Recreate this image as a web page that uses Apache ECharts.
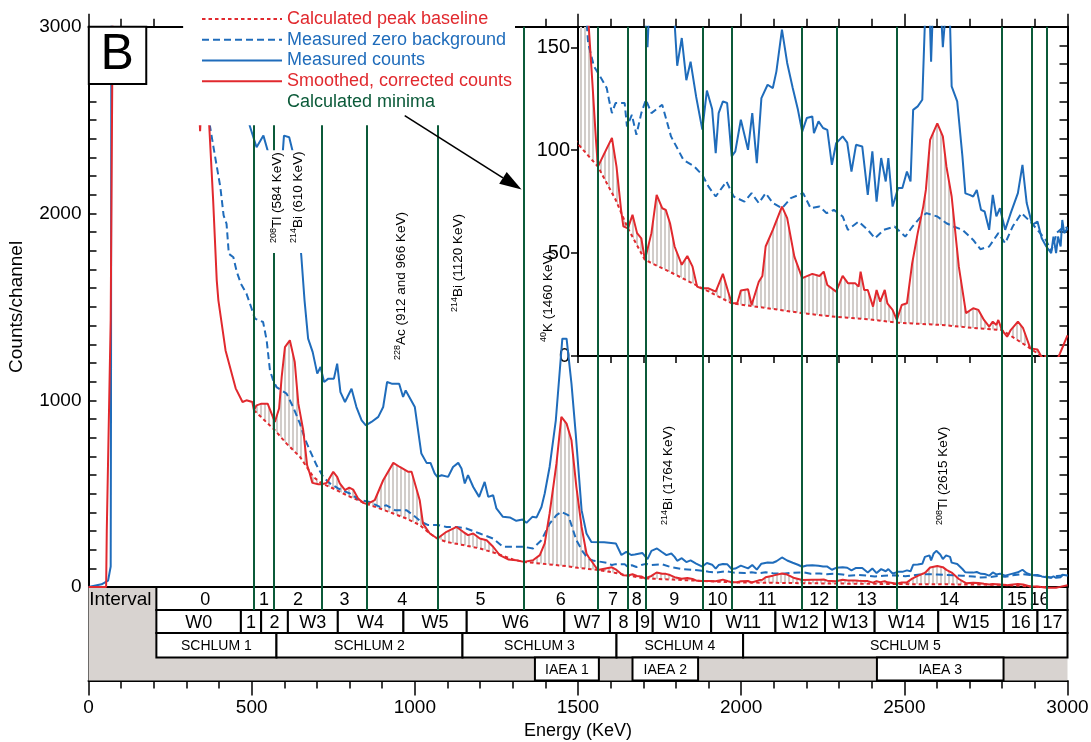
<!DOCTYPE html>
<html><head><meta charset="utf-8">
<script src="https://cdn.jsdelivr.net/npm/echarts@6.0.0/dist/echarts.min.js"></script>
<style>html,body{margin:0;padding:0;background:#fff}#c{width:1091px;height:742px}</style>
</head><body><div id="c"></div>
<script>
// ---------------- DATA ----------------
const smoothedCounts = [[0,0],[54,0],[56,300],[68,1430],[75,3300],[330,3300],[338,2600],[342,2440],[346,2600],[356,2700],[370,2470],[382,2070],[393,1642],[398,1535],[420,1267],[451,1064],[472,991],[484,1000],[502,991],[507,947],[515,973],[530,982],[549,982],[561,929],[571,884],[584,956],[592,1125],[602,1285],[617,1321],[632,1205],[643,982],[658,840],[670,652],[678,608],[686,558],[704,551],[715,551],[730,558],[750,617],[762,590],[770,555],[786,519],[799,533],[811,522],[826,474],[842,451],[854,444],[877,465],[903,572],[934,665],[954,643],[980,617],[990,617],[1015,465],[1025,340],[1046,287],[1069,260],[1097,296],[1128,322],[1148,296],[1163,278],[1179,287],[1199,260],[1220,251],[1240,216],[1260,171],[1286,148],[1311,144],[1334,135],[1362,144],[1383,171],[1398,234],[1413,394],[1434,661],[1449,911],[1465,875],[1480,786],[1495,536],[1511,322],[1526,180],[1533,160],[1544,133],[1555,105],[1561,92],[1604,106],[1618,92],[1632,71],[1639,63],[1653,62],[1667,68.6],[1681,59.7],[1694,57.2],[1705,46.7],[1725,59.7],[1741,78.3],[1758,71.8],[1769,71],[1782,64.5],[1796,53.2],[1818,44.3],[1835,48.6],[1851,43.4],[1865,33.7],[1878,32.9],[1900,32.9],[1922,31.3],[1944,39.9],[1960,31.3],[1971,25.6],[1988,25.6],[1999,31.8],[2021,32.4],[2032,24.8],[2054,36.1],[2065,38.9],[2075,53.2],[2097,61.3],[2125,72.6],[2141,67],[2163,48.3],[2187,37.8],[2218,39.9],[2240,38.9],[2253,41],[2264,34.5],[2291,31.3],[2311,38.9],[2327,35.4],[2349,35.4],[2360,33.7],[2366,41],[2377,32.1],[2388,32.1],[2404,24],[2415,32.1],[2426,26.4],[2440,32.1],[2448,25.6],[2464,22.4],[2477,17.5],[2492,24.8],[2508,25.6],[2524,45],[2541,59.7],[2558,72.6],[2566,80.7],[2579,105],[2601,113],[2618,106.7],[2629,92],[2645,77.5],[2667,43.4],[2689,20.8],[2711,23.2],[2727,22.4],[2744,17.5],[2760,14.3],[2771,16.7],[2782,15.1],[2788,17.5],[2799,12.6],[2815,9.4],[2826,12.6],[2848,16.7],[2864,13.5],[2886,3.7],[2908,3.2],[2919,0],[2935,-3],[2965,-3],[2977,1.3],[2990,6.2],[3000,10]];

const peakBaseline = [[507,947],[571,840],[607,768],[648,697],[689,590],[715,555],[750,528],[791,492],[854,444],[893,421],[934,394],[974,367],[1015,332],[1046,287],[1069,260],[1097,242],[1148,225],[1199,207],[1250,180],[1301,148],[1334,135],[1403,123],[1465,112],[1500,103],[1561,92],[1615,76],[1653,62],[1705,46.7],[1790,40.2],[1881,32.9],[1971,25.6],[2119,22.4],[2187,20.8],[2291,19],[2393,17.8],[2477,16.2],[2612,15.1],[2722,13.5],[2799,12.6],[2886,3.7],[2919,0],[2937,0]];

const zeroBackground = [[330,3300],[360,2650],[372,2470],[383,2355],[404,2141],[414,1990],[423,1945],[430,1784],[444,1766],[454,1690],[467,1624],[484,1571],[500,1490],[510,1437],[535,1419],[546,1321],[556,1160],[566,1107],[576,1071],[607,1036],[627,964],[648,875],[663,795],[678,733],[699,652],[719,590],[740,555],[765,528],[801,501],[832,465],[862,456],[893,429],[913,438],[939,412],[974,412],[995,385],[1020,349],[1041,332],[1071,332],[1097,322],[1128,322],[1158,314],[1199,287],[1240,260],[1270,216],[1301,216],[1332,216],[1362,207],[1388,251],[1413,340],[1434,385],[1449,403],[1470,385],[1480,332],[1495,251],[1515,189],[1531,152],[1549,140.7],[1571,135],[1588,130.2],[1595,124.5],[1604,118],[1615,122.9],[1643,122.9],[1650,111.5],[1665,117.2],[1679,107.5],[1694,118],[1708,124.5],[1725,118],[1758,122.1],[1785,106.7],[1823,95.3],[1856,92.1],[1881,88],[1900,82.3],[1922,77.5],[1955,84.8],[1977,77.5],[2010,75],[2032,79.1],[2054,74.3],[2075,79.1],[2097,74.3],[2125,71.8],[2152,76.7],[2190,79.1],[2213,71.8],[2240,72.6],[2262,69.4],[2284,71],[2311,67.8],[2327,61.3],[2360,65.3],[2388,61.3],[2410,57.2],[2437,61.3],[2470,62.9],[2503,58],[2525,62.9],[2547,67],[2568,69.4],[2601,67.8],[2629,64.5],[2651,62.9],[2678,61.3],[2711,56.4],[2733,51.9],[2760,53.2],[2788,59.7],[2809,54.8],[2832,62.9],[2859,69.4],[2886,65.3],[2908,61.3],[2935,56],[2950,51],[2968,60],[2990,63],[3000,62]];

const measuredCounts = [[0,0],[40,15],[60,35],[68,110],[69,1000],[70,3300],[470,3300],[494,2470],[515,2355],[536,2417],[549,2337],[560,2150],[575,2100],[590,2200],[599,2417],[615,2408],[625,2337],[640,2000],[652,1775],[662,1535],[673,1330],[687,1258],[701,1143],[711,1178],[722,1098],[735,1116],[752,1116],[762,1196],[772,1044],[786,991],[806,1062],[821,964],[837,893],[850,866],[867,884],[888,911],[903,964],[915,1098],[929,1089],[952,1089],[964,1018],[972,1053],[1000,964],[1020,715],[1036,665],[1048,665],[1061,608],[1069,590],[1082,599],[1102,590],[1117,643],[1133,665],[1143,635],[1153,555],[1163,599],[1179,536],[1197,483],[1214,563],[1225,483],[1240,492],[1250,421],[1270,376],[1291,373],[1311,355],[1330,362],[1342,344],[1360,376],[1373,373],[1388,429],[1398,501],[1413,643],[1432,893],[1452,1330],[1465,1330],[1480,1089],[1493,822],[1511,412],[1526,287],[1541,242],[1580,240],[1616,234],[1633,172],[1648,189],[1663,172],[1674,175],[1697,183],[1713,150],[1725,194],[1742,207],[1756,189],[1771,171],[1786,180],[1796,162],[1804,141],[1818,154.5],[1832,134],[1845,143],[1862,126],[1881,110],[1895,129],[1911,120],[1922,98.6],[1931,118],[1944,123.7],[1957,122.9],[1971,97],[1982,99.4],[1999,114.8],[2021,100.2],[2034,118],[2048,93.7],[2062,125.3],[2081,131.8],[2097,130.2],[2108,138.3],[2125,158.6],[2141,142.4],[2158,130.2],[2174,119.6],[2187,109],[2201,115.6],[2218,116.4],[2223,108.3],[2237,114],[2251,110.8],[2264,109.9],[2278,92.9],[2291,103.4],[2311,106.7],[2325,103.7],[2338,89.6],[2352,102.6],[2371,101.8],[2388,78.3],[2402,99.4],[2415,75],[2429,96.2],[2443,84.8],[2451,96.2],[2464,72.6],[2481,81.6],[2494,81.6],[2508,89.6],[2519,84.8],[2527,119.6],[2541,121.3],[2555,124.5],[2563,162],[2577,170],[2582,143],[2590,180],[2598,194],[2610,175],[2618,150],[2628,170],[2640,162],[2645,131],[2662,123.7],[2678,97],[2687,79],[2700,78.3],[2711,77.5],[2722,80.7],[2735,71],[2746,70.2],[2760,61.3],[2771,78.3],[2782,67.8],[2793,71.8],[2809,61.3],[2826,69.4],[2848,79.1],[2862,92.9],[2875,74.3],[2892,63.7],[2908,65.3],[2921,57.2],[2935,53.2],[2950,50],[2957,58],[2965,50],[2971,58],[2979,53.2],[2984,66.1],[2990,59.7],[3000,62]];

const minimaEnergy = [507,569,715,854,1069,1333,1561,1653,1707,1883,1972,2187,2292,2477,2799,2891,2937];
const intervalBounds = [208,507,569,715,854,1069,1333,1561,1653,1707,1883,1972,2187,2292,2477,2799,2891,2937,3000];
const intervalLabels = ['0','1','2','3','4','5','6','7','8','9','10','11','12','13','14','15','16',''];
const windowBounds = [208,467,529,611,764,965,1159,1458,1598,1681,1729,1908,2105,2257,2409,2604,2805,2908,3000];
const windowLabels = ['W0','1','2','W3','W4','W5','W6','W7','8','9','W10','W11','W12','W13','W14','W15','16','17'];
const schlumBounds = [208,576,1146,1618,2006,3000];
const schlumLabels = ['SCHLUM 1','SCHLUM 2','SCHLUM 3','SCHLUM 4','SCHLUM 5'];
const iaeaRanges = [[1368,1564],[1667,1868],[2416,2804]];
const iaeaLabels = ['IAEA 1','IAEA 2','IAEA 3'];
const peakIsotopes = ['208','214','228','214','40','214','208'];
const peakNames = ['Tl (584 KeV)','Bi (610 KeV)','Ac (912 and 966 KeV)','Bi (1120 KeV)','K (1460 KeV)','Bi (1764 KeV)','Tl (2615 KeV)'];
const xTickLabels = [0,500,1000,1500,2000,2500,3000];
const yTickLabels = [0,1000,2000,3000];
const insetTickLabels = [0,50,100,150];

// ---------------- LAYOUT / STYLE ----------------
const RED = '#e1292e', BLUE = '#1f6cbb', GREEN = '#0b5a39', GREY = '#d8d3d0';
const FONT = '"Liberation Sans", Arial, Helvetica, sans-serif';
const ROW = [0, -123, -246, -377, -500];      // table row edges (counts units, below zero)
// annotation anchors (energy, counts) for the rotated peak labels
const peakAnchor = [[578,1842],[642,1842],[958,1216],[1134,1473],[1408,1312],[1776,332],[2620,332]];

const chart = echarts.init(document.getElementById('c'), null, {renderer:'canvas'});

const pc = document.createElement('canvas'); pc.width = 4; pc.height = 4;
const g2 = pc.getContext('2d'); g2.fillStyle = '#d2cdca'; g2.fillRect(0,0,2,4);
const hatchFill = {image: pc, repeat: 'repeat'};

function cellsFrom(bounds, top, bot){ const d=[]; for(let i=0;i<bounds.length-1;i++) d.push([bounds[i],bounds[i+1],top,bot]); return d; }

function boxSeries(name, data, labels, fontSize, fill, stroke){
  return {type:'custom', name, xAxisIndex:0, yAxisIndex:0, z:1, silent:true, animation:false,
    encode:{x:[0,1], y:[2,3]}, data,
    renderItem(params, api){
      const p0 = api.coord([api.value(0), api.value(2)]);
      const p1 = api.coord([api.value(1), api.value(3)]);
      const ch = [{type:'rect', shape:{x:p0[0], y:p0[1], width:p1[0]-p0[0], height:p1[1]-p0[1]},
        style:{fill: fill || 'none', stroke: stroke || 'none', lineWidth: 2}}];
      const t = labels ? labels[params.dataIndex] : '';
      if (t) ch.push({type:'text', style:{text:t, x:(p0[0]+p1[0])/2, y:(p0[1]+p1[1])/2 + 1, align:'center', verticalAlign:'middle', fontSize, fontFamily:FONT, fill:'#000'}});
      return {type:'group', children: ch};
    }};
}

function hatchSeries(xi, yi, anchor){
  return {type:'custom', name:'hatch', xAxisIndex:xi, yAxisIndex:yi, z:1, silent:true, clip:true, animation:false,
    data:[anchor],
    renderItem(params, api){
      const pts = [];
      smoothedCounts.forEach(p => { if (p[0] >= 507 && p[0] <= 2919) pts.push(api.coord(p)); });
      for (let i = peakBaseline.length-1; i >= 0; i--) { const p = peakBaseline[i]; if (p[0] <= 2919) pts.push(api.coord(p)); }
      const cs = params.coordSys;
      return {type:'polygon', shape:{points: pts}, style:{fill: hatchFill, stroke:'none'},
        clipPath:{type:'rect', shape:{x:cs.x, y:cs.y, width:cs.width, height:cs.height}}};
    }};
}

function lineSeries(name, data, color, type, xi, yi){
  return {type:'line', name, data, xAxisIndex:xi, yAxisIndex:yi, z:3, symbol:'none', showSymbol:false, silent:true,
    clip:true, animation:false, lineStyle:{color, width:2, type}, itemStyle:{color}, emphasis:{disabled:true}};
}

function axisStyle(extra){
  const base = {type:'value', silent:true,
    axisLine:{show:true, onZero:false, lineStyle:{color:'#000', width:2}},
    axisTick:{show:true, lineStyle:{color:'#000', width:1.5}},
    splitLine:{show:false}, minorTick:{show:false}, minorSplitLine:{show:false},
    axisLabel:{show:false}};
  for (const k in extra) {
    if (extra[k] && typeof extra[k] === 'object' && !Array.isArray(extra[k]) && base[k]) base[k] = Object.assign({}, base[k], extra[k]);
    else base[k] = extra[k];
  }
  return base;
}

const option = {
  animation:false,
  textStyle:{fontFamily:FONT},
  grid:[
    {left:88.5, right:23.5, top:26.7, bottom:61.5, outerBoundsMode:'none', containLabel:false},
    {left:88.5, right:23.5, top:26.7, bottom:154.9, outerBoundsMode:'none', containLabel:false},
    {left:578, right:23.5, top:26.7, bottom:386, outerBoundsMode:'none', containLabel:false}
  ],
  xAxis:[
    axisStyle({gridIndex:0, position:'bottom', min:0, max:3000, interval:100,
      axisTick:{length:8},
      axisLabel:{show:true, color:'#000', fontSize:19, margin:18, fontFamily:FONT, hideOverlap:false,
        formatter: v => xTickLabels.indexOf(v) >= 0 ? String(v) : ''},
      name:'Energy (KeV)', nameLocation:'middle', nameGap:41,
      nameTextStyle:{fontSize:18, color:'#000', fontFamily:FONT}}),
    axisStyle({gridIndex:0, position:'bottom', min:0, max:3000, interval:500,
      axisLine:{show:false}, axisTick:{length:15}}),
    axisStyle({gridIndex:1, position:'top', min:0, max:3000, interval:100, axisTick:{length:8}}),
    axisStyle({gridIndex:1, position:'top', min:0, max:3000, interval:500, axisLine:{show:false}, axisTick:{length:13}}),
    axisStyle({gridIndex:2, position:'bottom', min:1500, max:3000, interval:100, axisTick:{length:7}})
  ],
  yAxis:[
    axisStyle({gridIndex:0, position:'left', min:-500, max:3000, interval:100,
      axisTick:{inside:true, length:8},
      axisLabel:{show:true, color:'#000', fontSize:19, margin:7, fontFamily:FONT, hideOverlap:false,
        formatter: v => yTickLabels.indexOf(v) >= 0 ? String(v) : ''}}),
    axisStyle({gridIndex:1, position:'left', min:0, max:3000, axisLine:{show:false}, axisTick:{show:false},
      name:'Counts/channel', nameLocation:'middle', nameGap:62,
      nameTextStyle:{fontSize:19, color:'#000', fontFamily:FONT}}),
    axisStyle({gridIndex:1, position:'right', min:0, max:3000, interval:100, axisTick:{inside:true, length:8}}),
    axisStyle({gridIndex:2, position:'left', min:0, max:160, interval:50, axisTick:{length:7},
      axisLabel:{show:true, color:'#000', fontSize:20, margin:8, fontFamily:FONT, hideOverlap:false,
        formatter: v => insetTickLabels.indexOf(v) >= 0 ? String(v) : ''}})
  ],
  legend:{orient:'vertical', left:201, top:8.6, itemWidth:80, itemHeight:12, itemGap:0, padding:0,
    selectedMode:false, z:20, itemStyle:{opacity:0},
    textStyle:{fontSize:18, lineHeight:20.75, fontFamily:FONT},
    data:[
      {name:'Calculated peak baseline', textStyle:{color:RED}},
      {name:'Measured zero background', textStyle:{color:BLUE}},
      {name:'Measured counts', textStyle:{color:BLUE}},
      {name:'Smoothed, corrected counts', textStyle:{color:RED}},
      {name:'Calculated minima', icon:'none', textStyle:{color:GREEN}}
    ]},
  series:[
    boxSeries('tableBg', [[0,3000,ROW[0],ROW[4]]], null, 0, GREY, null),
    boxSeries('intervalCells', cellsFrom(intervalBounds, ROW[0], ROW[1]), intervalLabels, 18, '#fff', null),
    boxSeries('intervalFrame', [[208,3000,ROW[0],ROW[1]]], null, 0, null, '#000'),
    boxSeries('zeroLine', [[0,3000,ROW[0],ROW[0]]], null, 0, null, '#000'),
    boxSeries('windows', cellsFrom(windowBounds, ROW[1], ROW[2]), windowLabels, 18, '#fff', '#000'),
    boxSeries('schlum', cellsFrom(schlumBounds, ROW[2], ROW[3]), schlumLabels, 14, '#fff', '#000'),
    boxSeries('iaea', iaeaRanges.map(r => [r[0], r[1], ROW[3], ROW[4]]), iaeaLabels, 14, '#fff', '#000'),
    hatchSeries(0, 0, [2000, 50]),
    hatchSeries(4, 3, [2000, 50]),
    {type:'scatter', name:'Calculated minima', data:[], xAxisIndex:0, yAxisIndex:0, z:2, silent:true,
      itemStyle:{color:GREEN},
      markLine:{silent:true, symbol:['none','none'], animation:false, label:{show:false},
        lineStyle:{color:GREEN, width:2, type:'solid'}, emphasis:{disabled:true},
        data: minimaEnergy.map(e => [{coord:[e, ROW[1]]}, {coord:[e, 3000]}])}},
    lineSeries('Calculated peak baseline', peakBaseline, RED, [3.5,3], 0, 0),
    lineSeries('Measured zero background', zeroBackground, BLUE, [7,4], 0, 0),
    lineSeries('Measured counts', measuredCounts, BLUE, 'solid', 0, 0),
    lineSeries('Smoothed, corrected counts', smoothedCounts, RED, 'solid', 0, 0),
    lineSeries('Calculated peak baseline', peakBaseline, RED, [3.5,3], 4, 3),
    lineSeries('Measured zero background', zeroBackground, BLUE, [7,4], 4, 3),
    lineSeries('Measured counts', measuredCounts, BLUE, 'solid', 4, 3),
    lineSeries('Smoothed, corrected counts', smoothedCounts, RED, 'solid', 4, 3)
  ]
};
chart.setOption(option);

// ---------------- DECORATIONS (positioned through the axes) ----------------
const P = (e, c) => chart.convertToPixel({xAxisIndex:0, yAxisIndex:0}, [e, c]);
const els = [];
function rectEl(e0, e1, c0, c1, style, z){
  const a = P(e0, c0), b = P(e1, c1);
  els.push({type:'rect', z, silent:true, shape:{x:Math.min(a[0],b[0]), y:Math.min(a[1],b[1]), width:Math.abs(b[0]-a[0]), height:Math.abs(b[1]-a[1])}, style});
}
// legend backdrop covering plot
rectEl(290, 1307, 3250, 2473, {fill:'#fff'}, 10);
// label backdrop for 584/610 labels
rectEl(532, 661, 2339, 1788, {fill:'#fff'}, 10);
// panel letter box
rectEl(1, 177, 3000, 2693, {fill:'#fff', stroke:'#000', lineWidth:2}, 10);
const bc = P(88, 2846);
els.push({type:'text', z:11, silent:true, x:bc[0], y:bc[1], style:{text:'B', fontSize:50, fontFamily:FONT, fill:'#000', align:'center', verticalAlign:'middle'}});
// Interval label
const il = P(2, (ROW[0]+ROW[1])/2);
els.push({type:'text', z:11, silent:true, x:il[0], y:il[1]+1, style:{text:'Interval', fontSize:19, fontFamily:FONT, fill:'#000', align:'left', verticalAlign:'middle'}});
// rotated peak labels
peakNames.forEach((t, i) => {
  const p = P(peakAnchor[i][0], peakAnchor[i][1]);
  els.push({type:'text', z:11, silent:true, x:p[0], y:p[1], rotation:Math.PI/2,
    style:{text:'{s|' + peakIsotopes[i] + '}{n|' + t + '}', align:'left', verticalAlign:'middle', fill:'#000',
      rich:{s:{fontSize:9, fontFamily:FONT, verticalAlign:'top', lineHeight:9, fill:'#000'},
            n:{fontSize:13.5, fontFamily:FONT, lineHeight:17, fill:'#000'}}}});
});
// arrow
const a0 = P(969, 2524), a1 = P(1327, 2128);
const dx = a1[0]-a0[0], dy = a1[1]-a0[1], L = Math.hypot(dx, dy), ux = dx/L, uy = dy/L;
const hb = [a1[0]-ux*22, a1[1]-uy*22];
els.push({type:'line', z:21, silent:true, shape:{x1:a0[0], y1:a0[1], x2:hb[0], y2:hb[1]}, style:{stroke:'#000', lineWidth:1.6}});
els.push({type:'polygon', z:21, silent:true, shape:{points:[[a1[0],a1[1]],[hb[0]-uy*7, hb[1]+ux*7],[hb[0]+uy*7, hb[1]-ux*7]]}, style:{fill:'#000'}});
chart.setOption({graphic:{elements:els}});
</script>
</body></html>
